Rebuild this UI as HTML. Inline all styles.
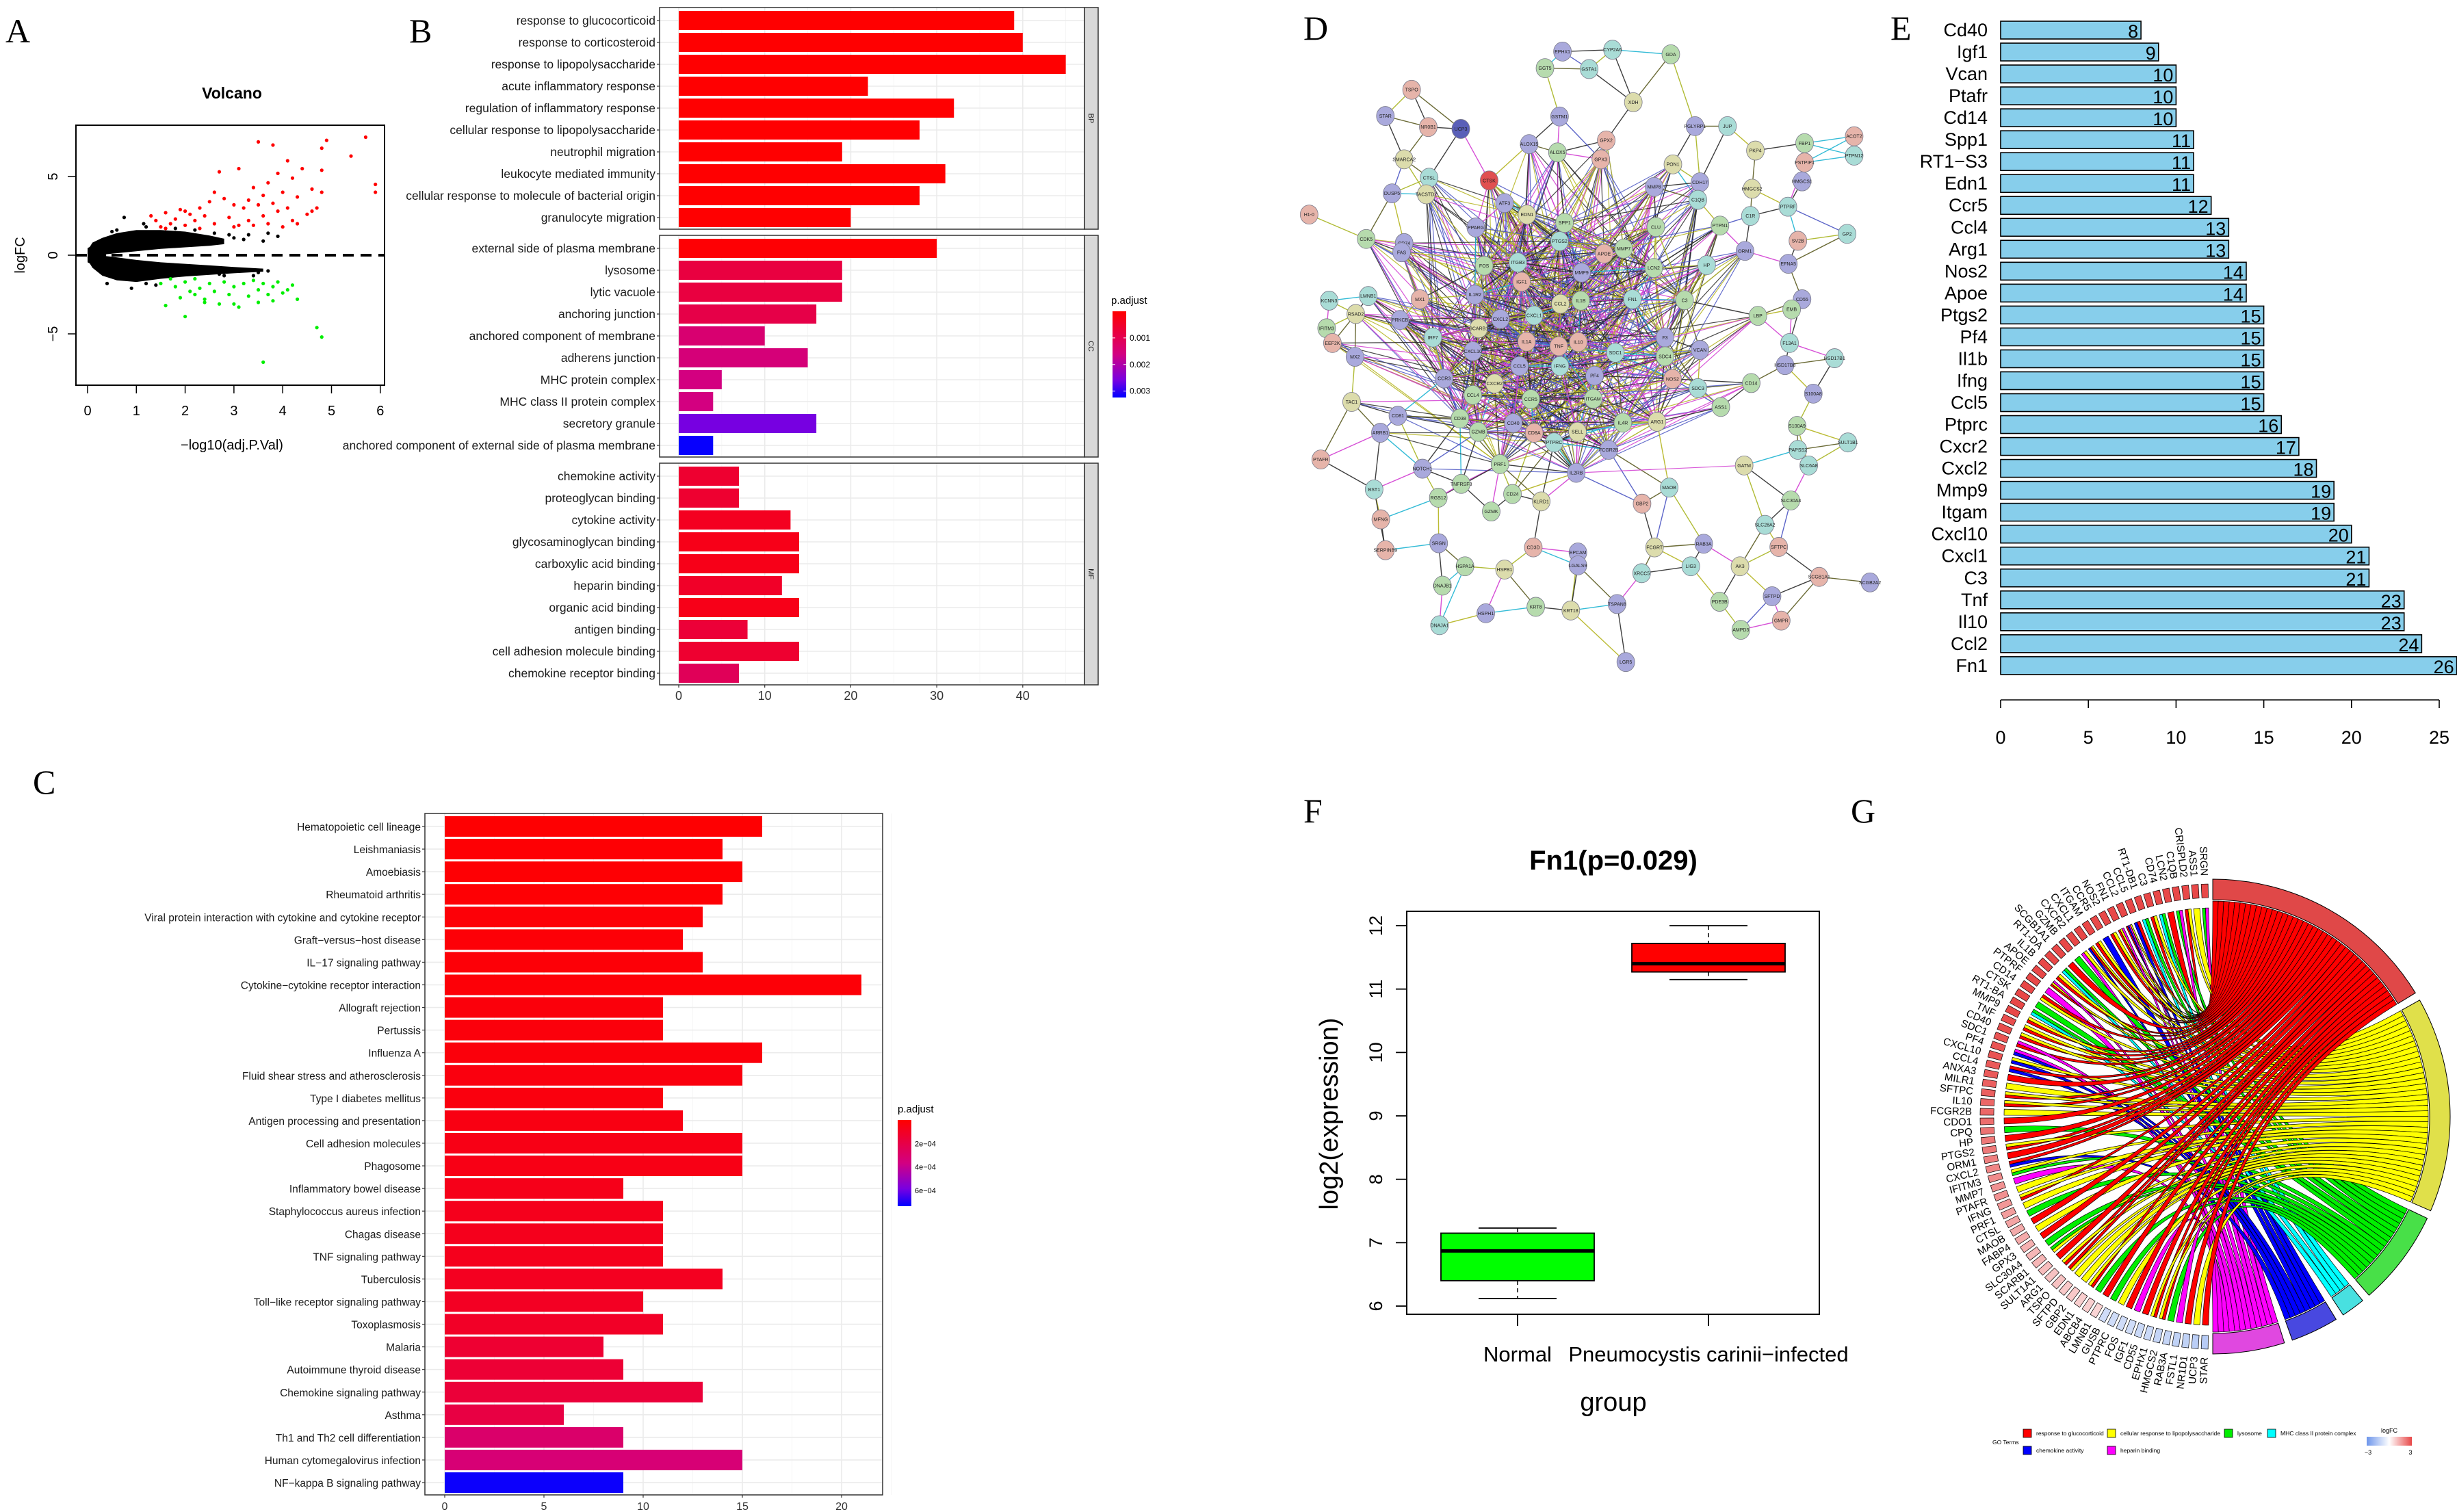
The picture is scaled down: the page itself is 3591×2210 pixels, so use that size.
<!DOCTYPE html>
<html><head><meta charset="utf-8"><style>
html,body{margin:0;padding:0;background:#fff;}
svg{display:block;font-family:"Liberation Sans",sans-serif;}
.nar{font-family:"Liberation Sans Narrow","Liberation Sans",sans-serif;}
.lab{font-family:"Liberation Serif",serif;font-size:50px;}
</style></head><body>
<svg id="fig" width="3591" height="2210" viewBox="0 0 3591 2210" xmlns="http://www.w3.org/2000/svg">
<rect width="3591" height="2210" fill="#fff"/>
<text class="lab" x="8" y="62">A</text>
<text class="lab" x="598" y="62">B</text>
<text class="lab" x="48" y="1160">C</text>
<text class="lab" x="1905" y="58">D</text>
<text class="lab" x="2763" y="58">E</text>
<text class="lab" x="1905" y="1202">F</text>
<text class="lab" x="2705" y="1202">G</text>
<g id="pA"></g>
<g id="pB"></g>
<g id="pC"></g>
<g id="pD"></g>
<g id="pE"></g>
<g id="pF"></g>
<g id="pG"></g>
</svg>
<script>
// ===== Panel A data =====
const volcRedX=[1.3,1.4,1.5,1.6,1.7,1.8,1.9,2.0,2.1,2.2,2.3,2.4,2.5,2.6,2.6,2.7,2.8,2.9,3.0,3.1,3.2,3.3,3.3,3.4,3.4,3.5,3.5,3.6,3.6,3.7,3.7,3.8,3.8,3.9,3.9,4.0,4.0,4.1,4.1,4.2,4.2,4.3,4.4,4.5,4.6,4.7,4.8,4.8,4.8,4.9,5.4,5.7,5.9,5.9,4.6,3.0,2.3,1.6,2.0,4.3,3.1];
const volcRedY=[2.5,2.2,1.8,2.7,2.0,2.3,2.9,1.9,2.6,2.2,1.7,2.5,3.4,2.0,4.0,5.3,3.6,2.4,1.8,5.5,3.0,3.5,2.2,4.3,1.9,3.2,7.2,2.5,3.8,4.6,2.0,7.0,3.3,2.8,5.2,1.8,4.0,3.0,6.0,2.2,4.9,3.7,5.5,2.6,4.2,3.0,5.4,6.8,4.0,7.3,6.3,7.5,4.5,4.0,2.8,3.2,3.0,1.7,2.8,2.0,1.9];
const volcGreenX=[1.5,1.6,1.7,1.8,1.9,2.0,2.1,2.2,2.3,2.4,2.5,2.6,2.7,2.8,2.9,3.0,3.1,3.2,3.3,3.4,3.5,3.5,3.6,3.7,3.8,3.8,3.9,4.0,4.1,4.2,4.3,2.0,4.7,4.8,3.6,2.2,2.4,3.0];
const volcGreenY=[-1.8,-3.2,-1.5,-2.0,-2.7,-1.7,-2.3,-1.5,-2.1,-2.8,-1.8,-2.3,-3.1,-1.7,-2.5,-2.0,-3.3,-1.8,-2.6,-1.6,-2.2,-3.0,-1.8,-2.5,-2.0,-2.9,-1.7,-2.4,-2.2,-1.9,-2.8,-3.9,-4.6,-5.2,-6.8,-2.5,-3.0,-3.1];
const volcBlackX=[0.75,1.15,1.2,2.9,3.2,3.6,3.9,3.7,3.3,0.4,0.9,1.2,3.7,3.4,2.8,0.5,0.6,2.6,2.2,3.0,3.5,2.7,1.8,1.4];
const volcBlackY=[2.4,2.0,1.8,1.3,1.0,0.9,1.2,1.4,1.3,-1.8,-2.1,-1.8,-1.0,-1.3,-1.3,1.5,1.6,1.4,1.6,1.1,-1.1,-1.2,1.7,-1.9];
const volcUpperOuter=[[0,0.3],[0.1,0.8],[0.3,1.1],[0.6,1.4],[1,1.6],[1.5,1.6],[2,1.5],[2.5,1.25],[2.8,1.05]];
const volcUpperInner=[[0.2,0],[0.5,0.1],[1,0.25],[1.5,0.4],[2,0.5],[2.5,0.6],[2.8,0.7]];
const volcLowerInner=[[0.2,0],[0.5,-0.1],[1,-0.3],[1.5,-0.45],[2,-0.55],[2.5,-0.65],[3,-0.75],[3.6,-0.85]];
const volcLowerOuter=[[0,-0.3],[0.1,-0.8],[0.3,-1.3],[0.6,-1.6],[1,-1.7],[1.5,-1.5],[2,-1.35],[2.5,-1.25],[3,-1.15],[3.6,-1.05]];
const volcCore=[[0,0.45],[0.15,0.7],[0.38,0.12],[0.38,-0.12],[0.15,-0.7],[0,-0.45]];
const volcXTicks=[0,1,2,3,4,5,6];
const volcYTicks=[-5,0,5];

// ===== Panel B data =====
const goBP=["response to glucocorticoid","response to corticosteroid","response to lipopolysaccharide","acute inflammatory response","regulation of inflammatory response","cellular response to lipopolysaccharide","neutrophil migration","leukocyte mediated immunity","cellular response to molecule of bacterial origin","granulocyte migration"];
const goBPCount=[39,40,45,22,32,28,19,31,28,20];
const goBPPadj=[0.00001,0.00001,0.00001,0.00001,0.00001,0.00001,0.00001,0.00001,0.00001,0.00001];
const goCC=["external side of plasma membrane","lysosome","lytic vacuole","anchoring junction","anchored component of membrane","adherens junction","MHC protein complex","MHC class II protein complex","secretory granule","anchored component of external side of plasma membrane"];
const goCCCount=[30,19,19,16,10,15,5,4,16,4];
const goCCPadj=[0.00005,0.0008,0.0008,0.0009,0.0014,0.0015,0.0016,0.0016,0.0026,0.0032];
const goMF=["chemokine activity","proteoglycan binding","cytokine activity","glycosaminoglycan binding","carboxylic acid binding","heparin binding","organic acid binding","antigen binding","cell adhesion molecule binding","chemokine receptor binding"];
const goMFCount=[7,7,13,14,14,12,14,8,14,7];
const goMFPadj=[0.0006,0.0006,0.0004,0.0003,0.0003,0.0005,0.0003,0.0007,0.0006,0.0011];
const goXTicks=[0,10,20,30,40];
const goLegendTicks=["0.001","0.002","0.003"];

// ===== Panel C data =====
const keggTerms=["Hematopoietic cell lineage","Leishmaniasis","Amoebiasis","Rheumatoid arthritis","Viral protein interaction with cytokine and cytokine receptor","Graft−versus−host disease","IL−17 signaling pathway","Cytokine−cytokine receptor interaction","Allograft rejection","Pertussis","Influenza A","Fluid shear stress and atherosclerosis","Type I diabetes mellitus","Antigen processing and presentation","Cell adhesion molecules","Phagosome","Inflammatory bowel disease","Staphylococcus aureus infection","Chagas disease","TNF signaling pathway","Tuberculosis","Toll−like receptor signaling pathway","Toxoplasmosis","Malaria","Autoimmune thyroid disease","Chemokine signaling pathway","Asthma","Th1 and Th2 cell differentiation","Human cytomegalovirus infection","NF−kappa B signaling pathway"];
const keggCount=[16,14,15,14,13,12,13,21,11,11,16,15,11,12,15,15,9,11,11,11,14,10,11,8,9,13,6,9,15,9];
const keggPadj=[0.000005,0.00001,0.00001,0.00001,0.00002,0.00002,0.00002,0.00002,0.00003,0.00003,0.00003,0.00004,0.00004,0.00005,0.00006,0.00006,0.00007,0.00008,0.00008,0.00008,0.00009,0.0001,0.00011,0.00014,0.00015,0.00016,0.00019,0.0003,0.00033,0.00072];
const keggXTicks=[0,5,10,15,20];
const keggLegendTicks=["2e−04","4e−04","6e−04"];

// ===== Panel E data =====
const hubGenes=["Cd40","Igf1","Vcan","Ptafr","Cd14","Spp1","RT1−S3","Edn1","Ccr5","Ccl4","Arg1","Nos2","Apoe","Ptgs2","Pf4","Il1b","Ifng","Ccl5","Ptprc","Cxcr2","Cxcl2","Mmp9","Itgam","Cxcl10","Cxcl1","C3","Tnf","Il10","Ccl2","Fn1"];
const hubDegree=[8,9,10,10,10,11,11,11,12,13,13,14,14,15,15,15,15,15,16,17,18,19,19,20,21,21,23,23,24,26];
const hubXTicks=[0,5,10,15,20,25];

// ===== Panel F data =====
const boxGroups=["Normal","Pneumocystis carinii−infected"];
const boxMin=[6.12,11.15];
const boxQ1=[6.4,11.27];
const boxMedian=[6.87,11.4];
const boxQ3=[7.15,11.72];
const boxMax=[7.23,12.0];
const boxYTicks=[6,7,8,9,10,11,12];

// ===== Panel G data =====
const chordTerms=["response to glucocorticoid","cellular response to lipopolysaccharide","lysosome","MHC class II protein complex","chemokine activity","heparin binding"];
const chordGenes=["SRGN","ASS1","CRISPLD2","C1QB","LCN2","CD74","C3","RT1-DB1","CCL5","CCL2","FN1","NOS2","CCR5","ITGAM","CXCL1","CXCR2","GZMB","SCGB1A1","RT1-DA","IL1B","APOE","PTPRF","CD14","CTSK","RT1-BA","MMP9","TNF","CD40","SDC1","PF4","CXCL10","CCL4","ANXA3","MILR1","SFTPC","IL10","FCGR2B","CDO1","CPQ","HP","PTGS2","ORM1","CXCL2","IFITM3","MMP7","PTAFR","IFNG","PRF1","CTSL","MAOB","FABP4","GPX3","SLC30A4","SCARB1","SULT1A1","ARG1","TSPO","SFTPD","GBP2","EDN1","ABCB4","LMNB1","GUSB","PTPRC","FOS","IGF1","CD55","EPHX1","HMGCS2","RAB3A","FSTL1","NR1D1","UCP3","STAR"];
const chordMembership=["gm","y","ry","gm","r","cg","ry","cg","br","rbmy","rym","ry","b","ry","bry","my","g","r","cg","ry","rym","m","yr","g","cg","ry","ry","ry","rm","bm","by","br","r","y","ry","ry","y","r","g","r","ry","r","br","gy","m","y","ry","y","g","r","y","r","g","yg","r","ry","yr","y","y","ry","g","r","g","y","r","m","r","ry","ry","g","m","r","y","r"];
const chordLogFC=[3,3,3,3,3,3,3,3,3,3,3,3,3,3,3,3,3,3,3,3,3,3,3,3,3,3,2.9,2.9,2.8,2.8,2.8,2.7,2.7,2.6,2.6,2.5,2.5,2.4,2.3,2.2,2.2,2.1,2.0,1.9,1.8,1.8,1.7,1.6,1.5,1.4,1.4,1.3,1.2,1.2,1.1,1.0,1.0,0.9,0.9,0.8,0.8,0.7,-1,-1,-1,-1,-1.1,-1.1,-1.2,-1.2,-1.3,-1.3,-1.4,-1.5];

// ===== helpers =====
const NS="http://www.w3.org/2000/svg";
function mk(parent,tag,attrs,txt){const e=document.createElementNS(NS,tag);for(const k in attrs)e.setAttribute(k,attrs[k]);if(txt!==undefined)e.textContent=txt;parent.appendChild(e);return e;}
function padjColor(t){t=Math.max(0,Math.min(1,t));const st=[[0,255,0,0],[0.5,210,0,130],[0.8,120,0,225],[1,0,0,255]];for(let i=0;i<st.length-1;i++){const a=st[i],b=st[i+1];if(t<=b[0]){const u=(t-a[0])/(b[0]-a[0]);return `rgb(${Math.round(a[1]+(b[1]-a[1])*u)},${Math.round(a[2]+(b[2]-a[2])*u)},${Math.round(a[3]+(b[3]-a[3])*u)})`;}}return "rgb(0,0,255)";}

// ===== Panel A =====
(function(){
const g=document.getElementById('pA');
const sx=x=>128+71.3*x, sy=y=>373-23*y;
const poly=pts=>pts.map(p=>sx(p[0]).toFixed(1)+','+sy(p[1]).toFixed(1)).join(' ');
let e=mk(g,'polygon',{points:poly(volcUpperOuter.concat(volcUpperInner.slice().reverse())),fill:'#000'});


e=mk(g,'polygon',{points:poly(volcLowerInner.concat(volcLowerOuter.slice().reverse())),fill:'#000'});


e=mk(g,'polygon',{points:poly(volcCore),fill:'#000'});


volcBlackX.forEach((x,i)=>{const c=mk(g,'circle',{cx:sx(x),cy:sy(volcBlackY[i]),r:2.6,fill:'#000'});

});
volcRedX.forEach((x,i)=>{const c=mk(g,'circle',{cx:sx(x),cy:sy(volcRedY[i]),r:2.6,fill:'#ff0000'});

});
volcGreenX.forEach((x,i)=>{const c=mk(g,'circle',{cx:sx(x),cy:sy(volcGreenY[i]),r:2.6,fill:'#00ee00'});

});
e=mk(g,'line',{x1:111,x2:562,y1:sy(0),y2:sy(0),stroke:'#000','stroke-width':4,'stroke-dasharray':'16,10'});


e=mk(g,'rect',{x:111,y:183,width:451,height:380,fill:'none',stroke:'#000','stroke-width':2});


mk(g,'line',{x1:sx(0),x2:sx(6),y1:563,y2:563,stroke:'#000','stroke-width':1.5});
volcXTicks.forEach(t=>{mk(g,'line',{x1:sx(t),x2:sx(t),y1:563,y2:575,stroke:'#000','stroke-width':1.5});
const tx=mk(g,'text',{x:sx(t),y:607,'font-size':20,'text-anchor':'middle'},String(t));

});
volcYTicks.forEach(t=>{mk(g,'line',{x1:99,x2:111,y1:sy(t),y2:sy(t),stroke:'#000','stroke-width':1.5});
const tx=mk(g,'text',{x:0,y:0,'font-size':20,'text-anchor':'middle',transform:`translate(84,${sy(t)}) rotate(-90)`},t<0?'−'+Math.abs(t):String(t));

});
e=mk(g,'text',{x:339,y:144,'font-size':23,'font-weight':'bold','text-anchor':'middle',class:'nar'},'Volcano');


e=mk(g,'text',{x:339,y:657,'font-size':20,'text-anchor':'middle'},'−log10(adj.P.Val)');


e=mk(g,'text',{x:0,y:0,'font-size':20,'text-anchor':'middle',transform:'translate(36,373) rotate(-90)'},'logFC');


})();

// ===== Panel B =====
(function(){
const g=document.getElementById('pB');
const bx=v=>992+12.57*v;
const tops=[11,344,677], H=324, L=964, R=1585;
const groups=[[goBP,goBPCount,goBPPadj,'BP'],[goCC,goCCCount,goCCPadj,'CC'],[goMF,goMFCount,goMFPadj,'MF']];
groups.forEach((grp,gi)=>{const top=tops[gi];
let e=mk(g,'rect',{x:L,y:top,width:R-L,height:H,fill:'#fff'});


for(let v=5;v<=45;v+=5){mk(g,'line',{x1:bx(v),x2:bx(v),y1:top,y2:top+H,stroke:v%10==0?'#ebebeb':'#f4f4f4','stroke-width':v%10==0?1.6:0.8});}
mk(g,'line',{x1:bx(0),x2:bx(0),y1:top,y2:top+H,stroke:'#ebebeb','stroke-width':1.6});
grp[0].forEach((lab,i)=>{const cy=top+19+i*32;
mk(g,'line',{x1:L,x2:R,y1:cy,y2:cy,stroke:'#ebebeb','stroke-width':1.6});
const b=mk(g,'rect',{x:bx(0),y:cy-14,width:bx(grp[1][i])-bx(0),height:28,fill:padjColor(grp[2][i]/0.00324)});


mk(g,'line',{x1:L-4,x2:L,y1:cy,y2:cy,stroke:'#333','stroke-width':1.2});
const t=mk(g,'text',{x:L-6,y:cy+6,'font-size':17.5,'text-anchor':'end',fill:'#1a1a1a'},lab);

});
e=mk(g,'rect',{x:L,y:top,width:R-L,height:H,fill:'none',stroke:'#333','stroke-width':1.5});


e=mk(g,'rect',{x:R,y:top,width:20,height:H,fill:'#d9d9d9',stroke:'#333','stroke-width':1.5});


e=mk(g,'text',{x:0,y:0,'font-size':11,'text-anchor':'middle',fill:'#1a1a1a',transform:`translate(${R+6},${top+H/2}) rotate(90)`},grp[3]);

});
goXTicks.forEach(t=>{mk(g,'line',{x1:bx(t),x2:bx(t),y1:1001,y2:1005,stroke:'#333','stroke-width':1.2});
const tx=mk(g,'text',{x:bx(t),y:1023,'font-size':18,'text-anchor':'middle',fill:'#333'},String(t));

});
const defs=mk(g,'defs',{});
const lg=mk(defs,'linearGradient',{id:'gB',x1:0,y1:0,x2:0,y2:1});
for(let i=0;i<=10;i++)mk(lg,'stop',{offset:i/10,'stop-color':padjColor(i/10)});
let e=mk(g,'text',{x:1624,y:444,'font-size':15},'p.adjust');


e=mk(g,'rect',{x:1626,y:455,width:20,height:126,fill:'url(#gB)'});


goLegendTicks.forEach((t,i)=>{const y=455+(parseFloat(t)/0.00324)*126;
mk(g,'line',{x1:1626,x2:1630,y1:y,y2:y,stroke:'#fff'});mk(g,'line',{x1:1642,x2:1646,y1:y,y2:y,stroke:'#fff'});
const tx=mk(g,'text',{x:1651,y:y+4,'font-size':12},t);

});
})();

// ===== Panel C =====
(function(){
const g=document.getElementById('pC');
const cx=v=>650+29*v; const L=621,R=1290,T=1189,B=2185;
for(let v=2.5;v<=22.5;v+=2.5){mk(g,'line',{x1:cx(v),x2:cx(v),y1:T,y2:B,stroke:v%5==0?'#ebebeb':'#f4f4f4','stroke-width':v%5==0?1.6:0.8});}
mk(g,'line',{x1:cx(0),x2:cx(0),y1:T,y2:B,stroke:'#ebebeb','stroke-width':1.6});
keggTerms.forEach((lab,i)=>{const cy=1208+i*33.07;
mk(g,'line',{x1:L,x2:R,y1:cy,y2:cy,stroke:'#ebebeb','stroke-width':1.6});
const b=mk(g,'rect',{x:cx(0),y:cy-15,width:cx(keggCount[i])-cx(0),height:30,fill:padjColor(keggPadj[i]/0.000735)});


mk(g,'line',{x1:L-4,x2:L,y1:cy,y2:cy,stroke:'#333','stroke-width':1.2});
const t=mk(g,'text',{x:L-6,y:cy+6,'font-size':15.5,'text-anchor':'end',fill:'#1a1a1a'},lab);

});
let e=mk(g,'rect',{x:L,y:T,width:R-L,height:B-T,fill:'none',stroke:'#333','stroke-width':1.5});


keggXTicks.forEach(t=>{mk(g,'line',{x1:cx(t),x2:cx(t),y1:B,y2:B+4,stroke:'#333','stroke-width':1.2});
const tx=mk(g,'text',{x:cx(t),y:2207,'font-size':16,'text-anchor':'middle',fill:'#333'},String(t));

});
const defs=mk(g,'defs',{});
const lg=mk(defs,'linearGradient',{id:'gC',x1:0,y1:0,x2:0,y2:1});
for(let i=0;i<=10;i++)mk(lg,'stop',{offset:i/10,'stop-color':padjColor(i/10)});
e=mk(g,'text',{x:1312,y:1626,'font-size':15},'p.adjust');


e=mk(g,'rect',{x:1312,y:1637,width:20,height:126,fill:'url(#gC)'});


keggLegendTicks.forEach((t,i)=>{const y=1637+((i+1)*0.0002/0.000735)*126;
const tx=mk(g,'text',{x:1337,y:y+4,'font-size':11},t);

});
})();

// ===== Panel D (network) =====
const netNodes=[["EPHX1",712,112,"p"],["CYP2A6",832,108,"c"],["GDA",972,118,"g"],["GGT5",670,148,"g"],["GSTA1",776,150,"c"],["XDH",882,222,"y"],["TSPO",350,195,"r"],["STAR",287,252,"p"],["NR0B1",390,276,"r"],["UCP3",468,280,"d"],["GSTM1",705,253,"p"],["PGLYRP1",1030,274,"p"],["JUP",1108,274,"c"],["FBP1",1293,311,"g"],["ACOT2",1412,296,"r"],["ALOX15",632,313,"p"],["ALOX5",700,331,"g"],["GPX2",817,305,"r"],["GPX3",804,346,"r"],["PON1",977,357,"y"],["PKP4",1175,327,"y"],["PSTPIP1",1293,353,"r"],["PTPN12",1412,338,"c"],["SMARCA2",332,346,"y"],["CTSL",392,386,"c"],["CTSK",536,392,"R"],["CDH17",1042,396,"p"],["HMGCS2",1167,410,"y"],["HMGCS1",1287,394,"p"],["DUSP5",303,420,"p"],["TACSTD2",385,422,"y"],["MMP8",932,406,"p"],["C1QB",1037,434,"c"],["ATF3",573,441,"p"],["EDN1",627,466,"y"],["H1-0",104,466,"r"],["C1R",1163,469,"c"],["PTPRF",1253,449,"c"],["SPP1",717,484,"g"],["CLU",936,493,"g"],["PTPN1",1090,490,"g"],["PPARG",504,494,"p"],["CDK5",241,519,"g"],["CD74",332,528,"p"],["FAS",326,548,"p"],["PTGS2",705,524,"c"],["SV2B",1277,523,"r"],["GP2",1395,508,"c"],["APOE",812,551,"r"],["MMP7",859,540,"g"],["ORM1",1150,545,"p"],["FOS",524,577,"g"],["ITGB3",605,570,"c"],["MMP9",758,592,"p"],["LCN2",931,582,"g"],["HP",1058,576,"c"],["EFNA5",1254,573,"p"],["IGF1",614,612,"r"],["IL1R2",502,640,"p"],["CCL2",707,660,"y"],["IL1B",756,653,"g"],["FN1",880,650,"c"],["C3",1005,652,"g"],["CD55",1287,650,"p"],["EMB",1262,672,"g"],["KCNN3",152,653,"c"],["LMNB1",246,643,"c"],["MX1",370,650,"r"],["RSAD2",216,682,"y"],["PRKCB",322,695,"p"],["CXCL2",563,693,"p"],["CXCL1",644,685,"c"],["LBP",1181,686,"g"],["IFITM3",146,713,"g"],["SCARB1",511,713,"y"],["EEF2K",160,745,"r"],["IRF7",401,733,"c"],["IL1A",626,742,"r"],["TNF",703,752,"r"],["IL10",750,743,"r"],["F3",958,733,"p"],["VCAN",1042,760,"p"],["F13A1",1257,745,"c"],["MX2",214,775,"p"],["CXCL10",497,763,"p"],["SDC1",839,766,"c"],["SDC4",958,774,"g"],["HSD17B8",1246,793,"p"],["HSD17B1",1365,778,"c"],["CCL5",609,795,"p"],["IFNG",706,795,"c"],["PF4",789,816,"p"],["CCR3",428,822,"p"],["CXCR2",549,833,"y"],["NOS2",976,823,"r"],["SDC3",1037,843,"c"],["CD14",1165,832,"g"],["S100A8",1314,855,"p"],["TAC1",206,873,"y"],["CCL4",497,858,"g"],["CCR5",636,867,"g"],["ITGAM",786,866,"g"],["ASS1",1092,884,"g"],["CD81",317,903,"p"],["CD38",466,909,"g"],["CD40",594,919,"p"],["IL4R",857,918,"g"],["ARG1",939,916,"y"],["S100A9",1275,925,"g"],["ARRB1",275,940,"p"],["GZMB",510,938,"g"],["CD8A",644,940,"r"],["SELL",748,938,"y"],["PTPRC",692,961,"c"],["FCGR2B",823,977,"p"],["PAPSS2",1277,977,"c"],["SULT1B1",1397,961,"c"],["PTAFR",132,998,"r"],["NOTCH1",376,1018,"p"],["PRF1",562,1008,"g"],["GATM",1148,1011,"y"],["SLC6A8",1303,1011,"c"],["IL2RB",745,1027,"p"],["TNFRSF8",469,1051,"g"],["BST1",260,1063,"c"],["MAOB",968,1059,"c"],["CD24",592,1073,"g"],["RGS12",414,1081,"g"],["KLRD1",661,1089,"y"],["SLC30A4",1260,1087,"g"],["GBP2",903,1094,"r"],["GZMK",541,1111,"g"],["MFNG",276,1128,"r"],["SLC28A2",1198,1140,"c"],["CD3D",642,1189,"r"],["FCGRT",933,1189,"y"],["RAB3A",1051,1181,"p"],["SRGN",415,1180,"p"],["SERPINB9",287,1195,"r"],["SFTPC",1231,1188,"r"],["EPCAM",749,1200,"p"],["LGALS9",749,1228,"p"],["HSPA1A",478,1230,"g"],["HSPB1",573,1237,"y"],["XRCC5",902,1245,"c"],["LIG3",1020,1230,"c"],["AK3",1138,1230,"y"],["SCGB1A1",1328,1253,"r"],["SCGB2A2",1450,1265,"p"],["DNAJB1",424,1272,"g"],["SFTPD",1215,1295,"p"],["PDE3B",1089,1307,"g"],["KRT8",648,1318,"g"],["KRT18",732,1326,"y"],["TSPAN8",843,1312,"p"],["HSPH1",528,1332,"p"],["GMPR",1237,1348,"r"],["DNAJA1",417,1358,"c"],["AMPD3",1140,1368,"g"],["LGR5",864,1438,"p"]];
(function(){
const g=document.getElementById('pD');
const X=zx=>1850+zx/1.642, Y=zy=>zy/1.486;
const col={p:'#a9a9dc',c:'#a9dcd6',g:'#b6dbad',y:'#dcdcac',r:'#e6b4aa',R:'#e05050',d:'#5a60b8'};
const ec=['#b4b41e','#2a2a2a','#d23cd2','#1eb4d2','#4b55c3','#a8b420','#2a2a2a','#5a5a20'];
const pts=netNodes.map(n=>[X(n[1]),Y(n[2])]);
const eg=mk(g,'g',{});
const seen={};
const cen=[X(700),Y(760)];
pts.forEach((p,i)=>{
 const d=pts.map((q,j)=>[Math.hypot(q[0]-p[0],q[1]-p[1]),j]).filter(a=>a[1]!==i).sort((a,b)=>a[0]-b[0]);
 const rc=Math.hypot(p[0]-cen[0],p[1]-cen[1]);
 const core=rc<200;
 const k=core?10:3;
 d.slice(0,k).forEach(a=>{const j=a[1];if(a[0]>(core?280:120))return;const key=Math.min(i,j)+'-'+Math.max(i,j);if(seen[key])return;seen[key]=1;
  const l=mk(eg,'line',{x1:p[0],y1:p[1],x2:pts[j][0],y2:pts[j][1],stroke:ec[(i+j)%ec.length],'stroke-width':1.4,opacity:0.9});
  
  });
 if(rc<330){pts.forEach((q,j)=>{if(j<=i)return;const dd=Math.hypot(q[0]-p[0],q[1]-p[1]);const qc=Math.hypot(q[0]-cen[0],q[1]-cen[1])<200;if(qc&&dd<330&&(i*7+j)%2==0){
  const l=mk(eg,'line',{x1:p[0],y1:p[1],x2:q[0],y2:q[1],stroke:ec[(i*3+j)%ec.length],'stroke-width':1.2,opacity:0.85});
  
  }});}
});
netNodes.forEach((n,i)=>{
 const c=mk(g,'ellipse',{cx:pts[i][0],cy:pts[i][1],rx:13,ry:14,fill:col[n[3]],stroke:'#7a7a8a','stroke-width':0.8});
 
 
 const t=mk(g,'text',{x:pts[i][0],y:pts[i][1]+2.5,'font-size':7,'text-anchor':'middle',fill:'#222'},n[0]);
 
 
});
})();

// ===== Panel E =====
(function(){
const g=document.getElementById('pE');
const ex=v=>2924+25.64*v;
hubGenes.forEach((name,i)=>{const cy=44+i*32.03;
 const b=mk(g,'rect',{x:ex(0),y:cy-13,width:ex(hubDegree[i])-ex(0),height:26,fill:'#87ceeb',stroke:'#000','stroke-width':1.6});
 
 
 const t=mk(g,'text',{x:2905,y:cy+9,'font-size':27,'text-anchor':'end'},name);
 
 
 const v=mk(g,'text',{x:ex(hubDegree[i])-4,y:cy+11,'font-size':27,'text-anchor':'end'},String(hubDegree[i]));
 
 
});
mk(g,'line',{x1:ex(0),x2:ex(25),y1:1023,y2:1023,stroke:'#000','stroke-width':1.6});
hubXTicks.forEach(t=>{mk(g,'line',{x1:ex(t),x2:ex(t),y1:1023,y2:1035,stroke:'#000','stroke-width':1.6});
 const tx=mk(g,'text',{x:ex(t),y:1087,'font-size':27,'text-anchor':'middle'},String(t));
 
 });
})();

// ===== Panel F =====
(function(){
const g=document.getElementById('pF');
const fy=v=>1353+(12-v)*92.67; const cxs=[2218,2497];
let e=mk(g,'text',{x:2358,y:1271,'font-size':40,'font-weight':'bold','text-anchor':'middle'},'Fn1(p=0.029)');


const fills=['#00ff00','#ff0000'];
boxGroups.forEach((gr,i)=>{const x=cxs[i];
 mk(g,'line',{x1:x,x2:x,y1:fy(boxMax[i]),y2:fy(boxQ3[i]),stroke:'#000','stroke-width':1.5,'stroke-dasharray':'6,5'});
 mk(g,'line',{x1:x,x2:x,y1:fy(boxQ1[i]),y2:fy(boxMin[i]),stroke:'#000','stroke-width':1.5,'stroke-dasharray':'6,5'});
 mk(g,'line',{x1:x-57,x2:x+57,y1:fy(boxMax[i]),y2:fy(boxMax[i]),stroke:'#000','stroke-width':1.8});
 mk(g,'line',{x1:x-57,x2:x+57,y1:fy(boxMin[i]),y2:fy(boxMin[i]),stroke:'#000','stroke-width':1.8});
 const b=mk(g,'rect',{x:x-112,y:fy(boxQ3[i]),width:224,height:fy(boxQ1[i])-fy(boxQ3[i]),fill:fills[i],stroke:'#000','stroke-width':1.8});
 
 
 mk(g,'line',{x1:x-112,x2:x+112,y1:fy(boxMedian[i]),y2:fy(boxMedian[i]),stroke:'#000','stroke-width':5});
 mk(g,'line',{x1:x,x2:x,y1:1921,y2:1938,stroke:'#000','stroke-width':1.8});
 const t=mk(g,'text',{x:x,y:1990,'font-size':31,'text-anchor':'middle'},gr);
 
 
});
e=mk(g,'rect',{x:2056,y:1332,width:603,height:589,fill:'none',stroke:'#000','stroke-width':2});


boxYTicks.forEach(t=>{mk(g,'line',{x1:2040,x2:2056,y1:fy(t),y2:fy(t),stroke:'#000','stroke-width':1.8});
 const tx=mk(g,'text',{x:0,y:0,'font-size':27,'text-anchor':'middle',transform:`translate(2020,${fy(t)}) rotate(-90)`},String(t));
 
 });
e=mk(g,'text',{x:2358,y:2062,'font-size':38,'text-anchor':'middle'},'group');


e=mk(g,'text',{x:0,y:0,'font-size':38,'text-anchor':'middle',transform:'translate(1955,1628) rotate(-90)'},'log2(expression)');


})();

// ===== Panel G (chord) =====
(function(){
const g=document.getElementById('pG');
const CX=3234,CY=1632;
const termColors=['#ff0000','#ffff00','#00ee00','#00ffff','#0000ff','#ff00ff'];
const bandColors=['#e04848','#e0e04a','#48e048','#48e0e0','#4848e0','#e048e0'];
const key='rygcbm';
const rad=d=>d*Math.PI/180;
const P=(r,a)=>[CX+r*Math.cos(rad(a)),CY+r*Math.sin(rad(a))];
const counts=[0,0,0,0,0,0];
chordMembership.forEach(s=>{for(const ch of s)counts[key.indexOf(ch)]++;});
const total=counts.reduce((a,b)=>a+b,0), gap=2, span=180-gap*5;
const unit=span/total;
const termStart=[];let a=-90;
counts.forEach((c,i)=>{termStart.push(a);a+=c*unit+gap;});
const slotUsed=[0,0,0,0,0,0];
const nG=chordGenes.length, gStep=176/(nG-1), gw=gStep*0.7;
const rg=mk(g,'g',{});
chordGenes.forEach((name,i)=>{
 const ga=268-i*gStep;
 const ms=chordMembership[i];const sub=gw/ms.length;
 [...ms].forEach((ch,k)=>{const ti=key.indexOf(ch);
  const a1=ga-gw/2+k*sub,a2=a1+sub;
  const b1=termStart[ti]+slotUsed[ti]*unit,b2=b1+unit;slotUsed[ti]++;
  const r1=305,r2=315;
  const p1=P(r1,a1),p2=P(r1,a2),q1=P(r2,b1),q2=P(r2,b2);
  const d=`M${p1[0]},${p1[1]} A${r1},${r1} 0 0 1 ${p2[0]},${p2[1]} Q${CX},${CY} ${q1[0]},${q1[1]} A${r2},${r2} 0 0 1 ${q2[0]},${q2[1]} Q${CX},${CY} ${p1[0]},${p1[1]}Z`;
  const rb=mk(rg,'path',{d:d,fill:termColors[ti],stroke:'#000','stroke-width':0.7});
  
  
 });
 const v=chordLogFC[i];
 let fc;
 if(v>=0){const u=Math.min(1,v/3);fc=`rgb(${Math.round(255-(255-232)*u)},${Math.round(255-(255-72)*u)},${Math.round(255-(255-72)*u)})`;}
 else{const u=Math.min(1,-v/3);fc=`rgb(${Math.round(255-(255-110)*u)},${Math.round(255-(255-150)*u)},${Math.round(255-(255-235)*u)})`;}
 const o1=P(320,ga-gw/2),o2=P(340,ga-gw/2),o3=P(340,ga+gw/2),o4=P(320,ga+gw/2);
 const bx=mk(g,'path',{d:`M${o1}L${o2}A340,340 0 0 1 ${o3}L${o4}A320,320 0 0 0 ${o1}Z`,fill:fc,stroke:'#000','stroke-width':0.7});
 
 
 const lp=P(352,ga);
 const t=mk(g,'text',{x:0,y:0,'font-size':15,'text-anchor':'end',transform:`translate(${lp[0]},${lp[1]}) rotate(${ga-180}) translate(0,5)`},name);
 
 
});
counts.forEach((c,i)=>{const b1=termStart[i],b2=b1+c*unit;
 const o1=P(317,b1),o2=P(347,b1),o3=P(347,b2),o4=P(317,b2);
 const large=(b2-b1)>180?1:0;
 const s=mk(g,'path',{d:`M${o1}L${o2}A347,347 0 ${large} 1 ${o3}L${o4}A317,317 0 ${large} 0 ${o1}Z`,fill:bandColors[i],stroke:'#000','stroke-width':1});
 
 
});
let e=mk(g,'text',{x:2912,y:2111,'font-size':8.5},'GO Terms');


const lx=[2957,3080,3251,3314,2957,3080], ly=[2095,2095,2095,2095,2120,2120];
chordTerms.forEach((t,i)=>{
 const r=mk(g,'rect',{x:lx[i],y:ly[i]-6,width:12,height:12,fill:termColors[i],stroke:'#000','stroke-width':0.8});
 
 
 const tx=mk(g,'text',{x:lx[i]+19,y:ly[i]+3,'font-size':8.5},t);
 
 
});
const defs=mk(g,'defs',{});
const lg=mk(defs,'linearGradient',{id:'gG'});
mk(lg,'stop',{offset:0,'stop-color':'#6e96eb'});mk(lg,'stop',{offset:0.5,'stop-color':'#ffffff'});mk(lg,'stop',{offset:1,'stop-color':'#e84848'});
e=mk(g,'rect',{x:3459,y:2100,width:66,height:13,fill:'url(#gG)'});


e=mk(g,'text',{x:3492,y:2094,'font-size':9,'text-anchor':'middle'},'logFC');


e=mk(g,'text',{x:3461,y:2126,'font-size':9,'text-anchor':'middle'},'−3');


e=mk(g,'text',{x:3523,y:2126,'font-size':9,'text-anchor':'middle'},'3');


})();
</script>
</body></html>
